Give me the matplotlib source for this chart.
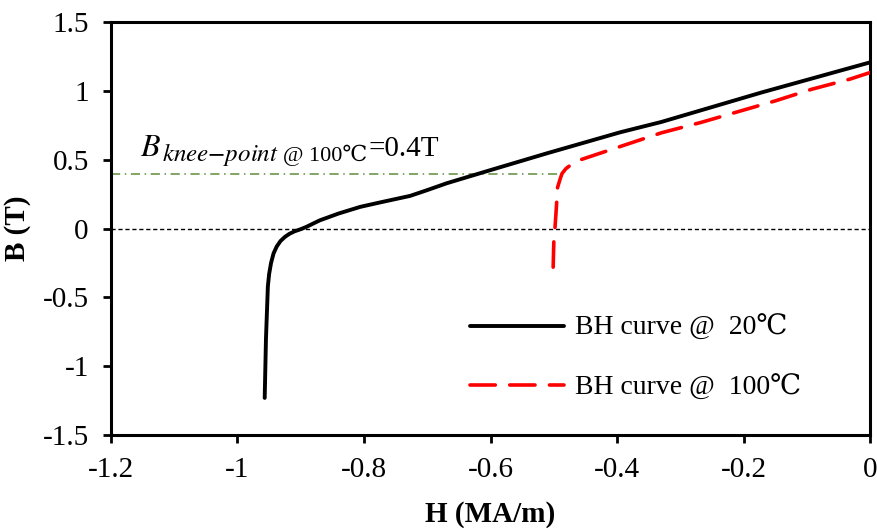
import matplotlib
matplotlib.use("Agg")
import matplotlib.pyplot as plt
import matplotlib.transforms as mtransforms

plt.rcParams['font.family'] = ['Liberation Serif', 'DejaVu Serif']
plt.rcParams['mathtext.fontset'] = 'stix'

# BH curve at 20 °C (H in MA/m, B in T)
h_20 = [-0.957, -0.955, -0.952, -0.950, -0.947, -0.943, -0.938, -0.932, -0.925,
        -0.918, -0.910, -0.900, -0.891, -0.870, -0.840, -0.806, -0.775, -0.745,
        -0.727, -0.700, -0.669, -0.601, -0.511, -0.395, -0.330, -0.171, 0.0]
b_20 = [-1.23, -0.80, -0.42, -0.33, -0.25, -0.18, -0.13, -0.09, -0.06,
        -0.038, -0.02, -0.004, 0.013, 0.06, 0.11, 0.158, 0.19, 0.22,
        0.238, 0.28, 0.33, 0.424, 0.547, 0.70, 0.775, 0.99, 1.208]

# BH curve at 100 °C
h_100 = [-0.501, -0.500, -0.498, -0.496, -0.494, -0.490, -0.487, -0.481, -0.474,
         -0.466, -0.458, -0.394, -0.330, -0.267, -0.213, -0.150, -0.092, -0.032, 0.0]
b_100 = [-0.28, -0.10, 0.013, 0.15, 0.30, 0.36, 0.40, 0.435, 0.46,
         0.485, 0.50, 0.598, 0.696, 0.772, 0.844, 0.928, 1.013, 1.086, 1.134]

# knee point of the 100 °C curve
b_knee = 0.4
h_knee = -0.482

x_ticks = [-1.2, -1.0, -0.8, -0.6, -0.4, -0.2, 0.0]
x_tick_labels = ['-1.2', '-1', '-0.8', '-0.6', '-0.4', '-0.2', '0']
y_ticks = [-1.5, -1.0, -0.5, 0.0, 0.5, 1.0, 1.5]
y_tick_labels = ['-1.5', '-1', '-0.5', '0', '0.5', '1', '1.5']

fig = plt.figure(figsize=(8.78, 5.28), dpi=100)
ax = fig.add_axes([0.1264, 0.176, 0.8646, 0.782])

ax.axhline(0, color='black', lw=1.0, ls=(0, (3, 2)), zorder=1)
ax.plot([-1.2, h_knee], [b_knee, b_knee], color='#5f8c3c', lw=1.1,
        ls=(0, (6, 3, 1, 3)), zorder=1)

ax.plot(h_20, b_20, color='black', lw=2.8, solid_capstyle='round',
        solid_joinstyle='round', label='BH curve @  20\u2103', zorder=3)
ax.plot(h_100, b_100, color='#ff0000', lw=2.6, ls=(0, (7, 4)),
        dash_capstyle='round', label='BH curve @  100\u2103', zorder=3)

ax.set_xlim(-1.2, 0)
ax.set_ylim(-1.5, 1.5)
ax.set_xticks(x_ticks)
ax.set_xticklabels(x_tick_labels)
ax.set_yticks(y_ticks)
ax.set_yticklabels(y_tick_labels)
ax.tick_params(axis='both', direction='out', length=6, width=2,
               labelsize=21, pad=10)

for side in ['left', 'bottom', 'right', 'top']:
    ax.spines[side].set_linewidth(2.2)

ax.set_xlabel('H (MA/m)', fontsize=21, fontweight='bold', labelpad=13)
ax.set_ylabel('B (T)', fontsize=21, fontweight='bold', labelpad=8)

ax.legend(loc='upper left', frameon=False, fontsize=20, handlelength=3.4,
          labelspacing=1.2, bbox_to_anchor=(0.473, 0.29), handletextpad=0.38,
          borderpad=0, borderaxespad=0)

# knee-point label built from pieces placed one after another
pieces = [
    ('$B$', 23, 0, 0),
    ('$knee{-}point$', 18, 1, -5),
    ('@ 100\u2103', 16, 4, -5),
    ('=0.4T', 21, 1, 0),
]
x_anchor, y_anchor = -1.154, 0.525
fig.canvas.draw()
renderer = fig.canvas.get_renderer()
x_shift = 0.0
for text, size, gap, dy in pieces:
    x_shift += gap
    tr = mtransforms.offset_copy(ax.transData, fig=fig, x=x_shift, y=dy,
                                 units='dots')
    t = ax.text(x_anchor, y_anchor, text, fontsize=size, ha='left',
                va='baseline', transform=tr)
    x_shift += t.get_window_extent(renderer).width

fig.savefig('out.png', dpi=100)
